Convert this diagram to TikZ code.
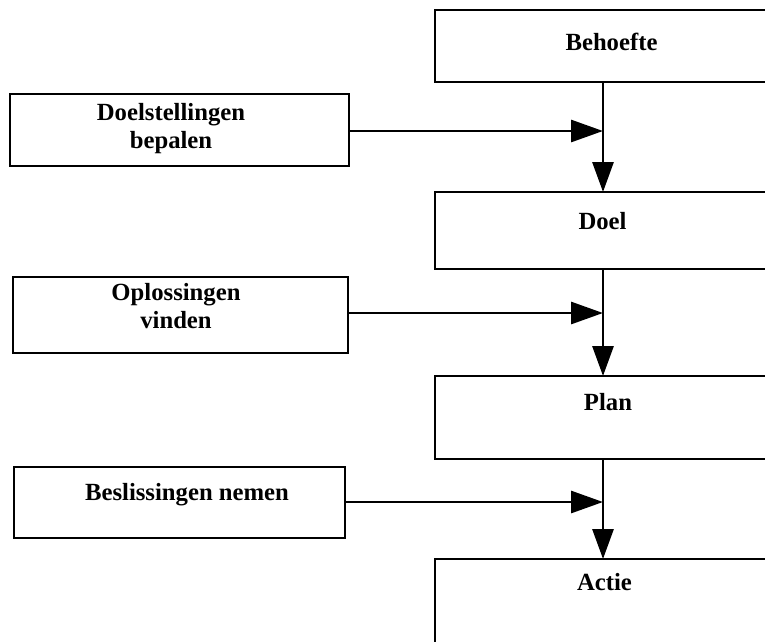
\documentclass[tikz,border=0pt]{standalone}
\usepackage{fontspec}
\setmainfont{Liberation Serif}
\usetikzlibrary{arrows.meta}
\begin{document}
\begin{tikzpicture}[x=1pt,y=-1pt,
  box/.style={draw=black, line width=2.9pt, inner sep=0pt, outer sep=0pt, fill=white},
  lbl/.style={inner sep=0pt, align=center, font=\fontsize{24.7}{27.5}\selectfont\bfseries},
  flow/.style={line width=2.9pt, -{Triangle[length=30pt,width=21pt]}},
  feed/.style={line width=2.9pt, -{Triangle[length=32pt,width=22pt]}}]
  \useasboundingbox (0,0) rectangle (765,641);
  \clip (0,0) rectangle (765,641);

  % main chain on the right (boxes run past the right edge)
  \node[box, minimum width=380pt, minimum height=72pt] (behoefte) at (625,46) {};
  \node[box, minimum width=380pt, minimum height=77pt] (doel) at (625,230.5) {};
  \node[box, minimum width=380pt, minimum height=83pt] (plan) at (625,417.5) {};
  \node[box, minimum width=380pt, minimum height=160pt] (actie) at (625,639) {};

  \node[lbl, anchor=base] (tbehoefte) at (611.5,50) {Behoefte};
  \node[lbl, anchor=base] (tdoel) at (602.5,229) {Doel};
  \node[lbl, anchor=base] (tplan) at (608,410) {Plan};
  \node[lbl, anchor=base] (tactie) at (604.5,590) {Actie};

  % activity boxes on the left
  \node[box, minimum width=339pt, minimum height=72pt] (doelst) at (179.5,130) {};
  \node[box, minimum width=335pt, minimum height=76pt] (oploss) at (180.5,315) {};
  \node[box, minimum width=331pt, minimum height=71pt] (besliss) at (179.5,502.5) {};

  % two-line labels: base anchor sits on the last line
  \node[lbl, anchor=base] (tdoelst) at (171,148) {Doelstellingen\\bepalen};
  \node[lbl, anchor=base] (toploss) at (176,328) {Oplossingen\\vinden};
  \node[lbl, anchor=base] (tbesliss) at (187,500) {Beslissingen nemen};

  % spine and junction points
  \coordinate (spine) at (603,0);
  \coordinate (j1) at (603,131);
  \coordinate (j2) at (603,313);
  \coordinate (j3) at (603,502);

  % downward flow
  \draw[flow] (behoefte.south -| spine) -- (doel.north -| spine);
  \draw[flow] (doel.south -| spine) -- (plan.north -| spine);
  \draw[flow] (plan.south -| spine) -- (actie.north -| spine);

  % activities feeding the flow
  \draw[feed] (doelst.east |- j1) -- (j1);
  \draw[feed] (oploss.east |- j2) -- (j2);
  \draw[feed] (besliss.east |- j3) -- (j3);
\end{tikzpicture}
\end{document}
